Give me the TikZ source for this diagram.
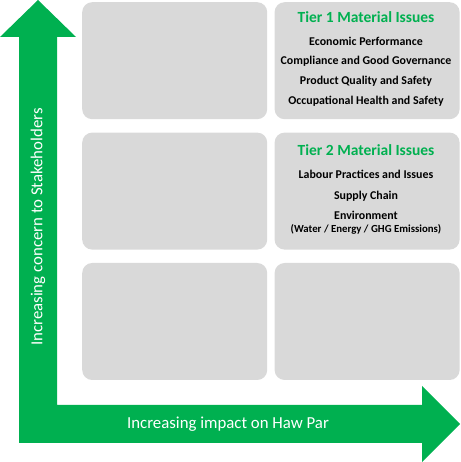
\documentclass[tikz,border=0pt]{standalone}
\usepackage{fontspec}
\setmainfont{Carlito}
\usepackage{xcolor}
\definecolor{AxisGreen}{HTML}{00B050}
\definecolor{CellGray}{HTML}{D9D9D9}
\usetikzlibrary{positioning}

\begin{document}
\begin{tikzpicture}[
  x=1pt, y=1pt,
  cell/.style={
    fill=CellGray,
    rounded corners=10pt,
    minimum width=185pt,
    minimum height=117pt,
    inner sep=0pt
  },
  tiertitle/.style={font=\fontsize{15.5}{18}\selectfont\bfseries, text=AxisGreen, inner sep=0pt},
  issue/.style={font=\fontsize{11.9}{14}\selectfont\bfseries, inner sep=0pt},
  axislabel/.style={font=\fontsize{16.8}{19}\selectfont, text=white, inner sep=0pt}
]
\useasboundingbox (0,0) rectangle (460,462);

% matrix cells
\node[cell, anchor=north west] (c11) at (82,460) {};
\node[cell, right=7pt of c11] (c12) {};
\node[cell, below=13pt of c11] (c21) {};
\node[cell, right=7pt of c21] (c22) {};
\node[cell, below=13pt of c21] (c31) {};
\node[cell, right=7pt of c31] (c32) {};

% axes arrow
\fill[AxisGreen] (19,19) -- (422,19) -- (422,0) -- (460,38) -- (422,76) -- (422,57)
  -- (57,57) -- (57,425) -- (76,425) -- (38,462) -- (0,425) -- (19,425) -- cycle;
\node[axislabel] (xlab) at (228,38) {Increasing impact on Haw Par};
\node[axislabel, rotate=90] (ylab) at (38,235) {Increasing concern to Stakeholders};

% tier 1
\node[tiertitle] (t1) at (366,445) {Tier 1 Material Issues};
\node[issue] (t1a) at (366,421) {Economic Performance};
\node[issue] (t1b) at (366,401) {Compliance and Good Governance};
\node[issue] (t1c) at (366,381) {Product Quality and Safety};
\node[issue] (t1d) at (366,361) {Occupational Health and Safety};

% tier 2
\node[tiertitle] (t2) at (366,312) {Tier 2 Material Issues};
\node[issue] (t2a) at (366,288) {Labour Practices and Issues};
\node[issue] (t2b) at (366,266) {Supply Chain};
\node[issue] (t2c) at (366,247) {Environment};
\node[issue, font=\fontsize{10.8}{12}\selectfont\bfseries] (t2d) at (366,233) {(Water / Energy / GHG Emissions)};

\end{tikzpicture}
\end{document}
